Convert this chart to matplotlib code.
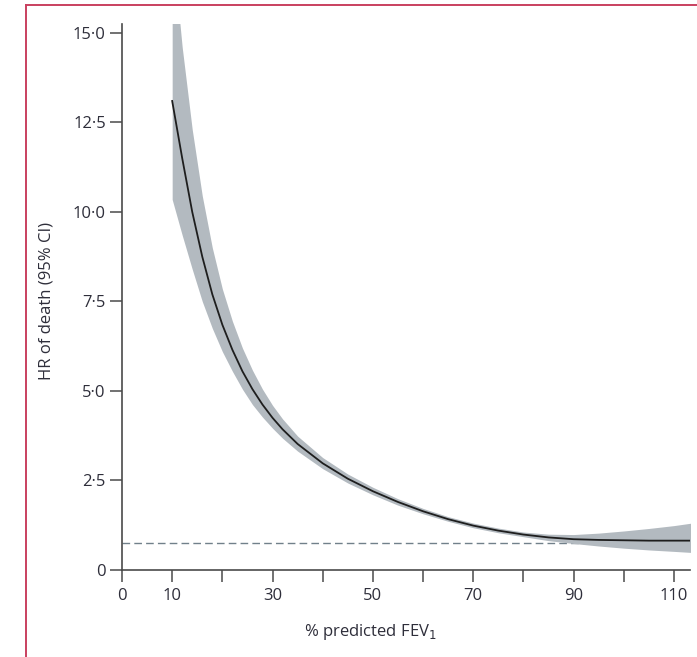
import numpy as np
import matplotlib
matplotlib.use('Agg')
import matplotlib.pyplot as plt
from matplotlib.lines import Line2D

# % predicted FEV1 and hazard ratio of death with its 95% CI
fev1 = [10, 12, 14, 16, 18, 20, 22, 24, 26, 28, 30, 32, 35, 40, 45, 50,
        55, 60, 65, 70, 75, 80, 85, 90, 95, 100, 105, 110, 113.5]
hr = [13.1, 11.5, 10.0, 8.75, 7.7, 6.85, 6.15, 5.55, 5.05, 4.62, 4.25, 3.93,
      3.52, 2.98, 2.55, 2.2, 1.9, 1.64, 1.42, 1.24, 1.1, 0.99, 0.91, 0.86,
      0.84, 0.83, 0.82, 0.82, 0.82]
hr_lower = [10.35, 9.35, 8.4, 7.5, 6.75, 6.1, 5.55, 5.05, 4.62, 4.27, 3.96,
            3.68, 3.32, 2.83, 2.43, 2.1, 1.81, 1.57, 1.36, 1.18, 1.04, 0.93,
            0.82, 0.74, 0.67, 0.61, 0.56, 0.52, 0.49]
hr_upper = [17.5, 14.6, 12.3, 10.45, 9.0, 7.85, 6.95, 6.2, 5.58, 5.05, 4.6,
            4.22, 3.74, 3.14, 2.68, 2.31, 1.99, 1.72, 1.49, 1.31, 1.17, 1.06,
            1.0, 0.99, 1.03, 1.09, 1.16, 1.24, 1.31]
ref_hr = 0.75

y_ticks = [0, 2.5, 5.0, 7.5, 10.0, 12.5, 15.0]
y_ticklabels = ['0', '2·5', '5·0', '7·5', '10·0', '12·5', '15·0']
x_ticks = [0, 10, 20, 30, 40, 50, 60, 70, 80, 90, 100, 110]
x_ticklabels = ['0', '10', '', '30', '', '50', '', '70', '', '90', '', '110']

plt.rcParams['font.family'] = ['Open Sans', 'DejaVu Sans']
text_color = '#2e2e3a'
axis_color = '#4a4a4a'

fig = plt.figure(figsize=(6.97, 6.57), dpi=100)
ax = fig.add_axes([122 / 697, 87 / 657, 568 / 697, 546 / 657])

# reference line, CI band and fitted curve
ax.axhline(ref_hr, color='#71808a', linewidth=1.0, dashes=(5.5, 3), zorder=1)
ax.fill_between(fev1, hr_lower, hr_upper, color='#b3bac0', linewidth=0, zorder=2)
ax.plot(fev1, hr, color='#1e1e1e', linewidth=1.3, zorder=3)

ax.set_xlim(0, 113.2)
ax.set_ylim(0, 15.25)
ax.set_xticks(x_ticks)
ax.set_xticklabels(x_ticklabels)
ax.set_yticks(y_ticks)
ax.set_yticklabels(y_ticklabels)

for side in ['top', 'right']:
    ax.spines[side].set_visible(False)
for side in ['left', 'bottom']:
    ax.spines[side].set_color(axis_color)
    ax.spines[side].set_linewidth(1.2)

ax.tick_params(axis='both', direction='out', length=8.6, width=1.1,
               color=axis_color, labelcolor=text_color, labelsize=12)
ax.tick_params(axis='x', pad=4.5)
ax.tick_params(axis='y', pad=3)

fig.text(370 / 697, 1 - 632 / 657, '% predicted FEV$_1$', ha='center',
         va='center', fontsize=12, color=text_color)
fig.text(47 / 697, 1 - 301 / 657, 'HR of death (95% CI)', ha='center',
         va='center', rotation=90, fontsize=12, color=text_color)

# page frame
frame_color = '#c9405f'
fig.add_artist(Line2D([26 / 697, 1], [1 - 5 / 657, 1 - 5 / 657],
                      transform=fig.transFigure, color=frame_color, linewidth=1.4))
fig.add_artist(Line2D([26 / 697, 26 / 697], [0, 1 - 5 / 657],
                      transform=fig.transFigure, color=frame_color, linewidth=1.4))

fig.savefig('out.png', dpi=100)
